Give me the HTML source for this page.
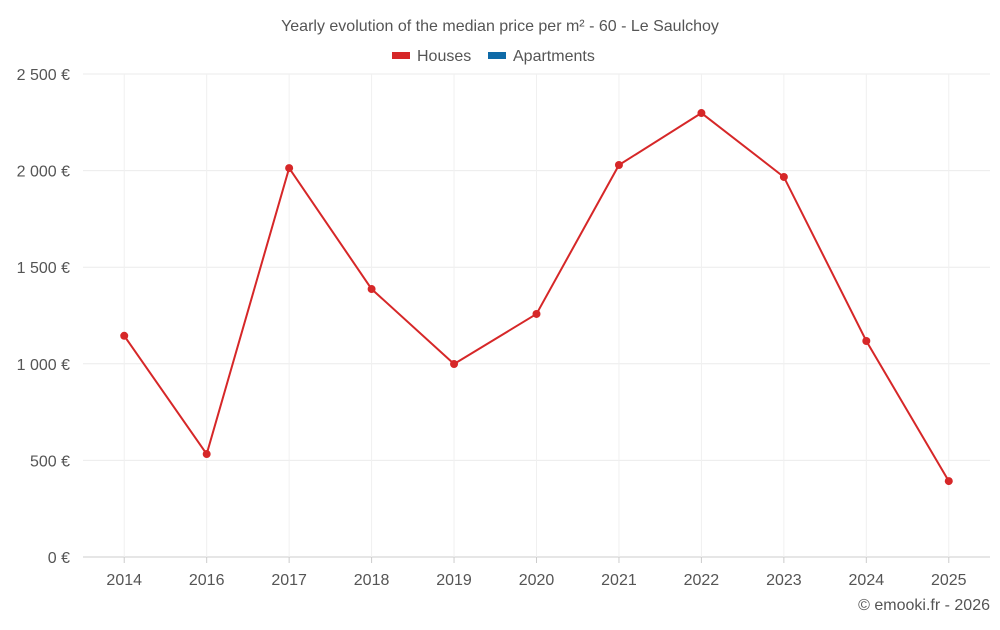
<!DOCTYPE html>
<html><head><meta charset="utf-8"><style>
body{margin:0;background:#fff;font-family:"Liberation Sans",sans-serif;}
svg text{font-family:"Liberation Sans",sans-serif;fill:#555;}
</style></head><body>
<svg width="1000" height="625" id="c">
<text x="500" y="31" text-anchor="middle" font-size="16">Yearly evolution of the median price per m² - 60 - Le Saulchoy</text>
<g><rect x="392" y="52" width="18" height="7" fill="#d62728"/><text x="417" y="61" font-size="16">Houses</text></g>
<g><rect x="488" y="52" width="18" height="7" fill="#0e6aa7"/><text x="513" y="61" font-size="16">Apartments</text></g>
<g id="grid"></g><g id="axes"></g><g id="series"></g>
<text x="990" y="610" text-anchor="end" font-size="16">© emooki.fr - 2026</text>
</svg>
<script>
const categories=["2014","2016","2017","2018","2019","2020","2021","2022","2023","2024","2025"];
const houses=[1145,533,2013,1387,999,1258,2029,2298,1967,1118,393];
const yTicks=[0,500,1000,1500,2000,2500];
const yLabels=["0 €","500 €","1 000 €","1 500 €","2 000 €","2 500 €"];
const L=83,R=990,T=74,B=557,ns="http://www.w3.org/2000/svg";
const band=(R-L)/categories.length;
const x=i=>L+band*(i+0.5);
const y=v=>B-(v/2500)*(B-T);
function mk(t,a,p){const e=document.createElementNS(ns,t);for(const k in a)e.setAttribute(k,a[k]);p.appendChild(e);return e;}
const g=document.getElementById('grid'),ax=document.getElementById('axes'),s=document.getElementById('series');
yTicks.forEach((v,i)=>{
 const l=mk('line',{x1:L,x2:R,y1:y(v),y2:y(v),stroke:v===0?'#ccc':'#ebebeb'},g);
 
 
 const t=mk('text',{x:70,y:y(v)+6,'text-anchor':'end','font-size':16},ax);t.textContent=yLabels[i];
 
 
});
categories.forEach((c,i)=>{
 const l=mk('line',{x1:x(i),x2:x(i),y1:T,y2:B,stroke:'#f0f0f0'},g);
 
 
 const tk=mk('line',{x1:x(i),x2:x(i),y1:B,y2:B+6,stroke:'#ccc'},ax);
 
 
 const t=mk('text',{x:x(i),y:585,'text-anchor':'middle','font-size':16},ax);t.textContent=c;
 
 
});
const line=mk('polyline',{points:houses.map((v,i)=>x(i)+','+y(v)).join(' '),fill:'none',stroke:'#d62728','stroke-width':2},s);


houses.forEach((v,i)=>{
 const p=mk('circle',{cx:x(i),cy:y(v),r:4,fill:'#d62728'},s);
 
 
});
</script>
</body></html>
